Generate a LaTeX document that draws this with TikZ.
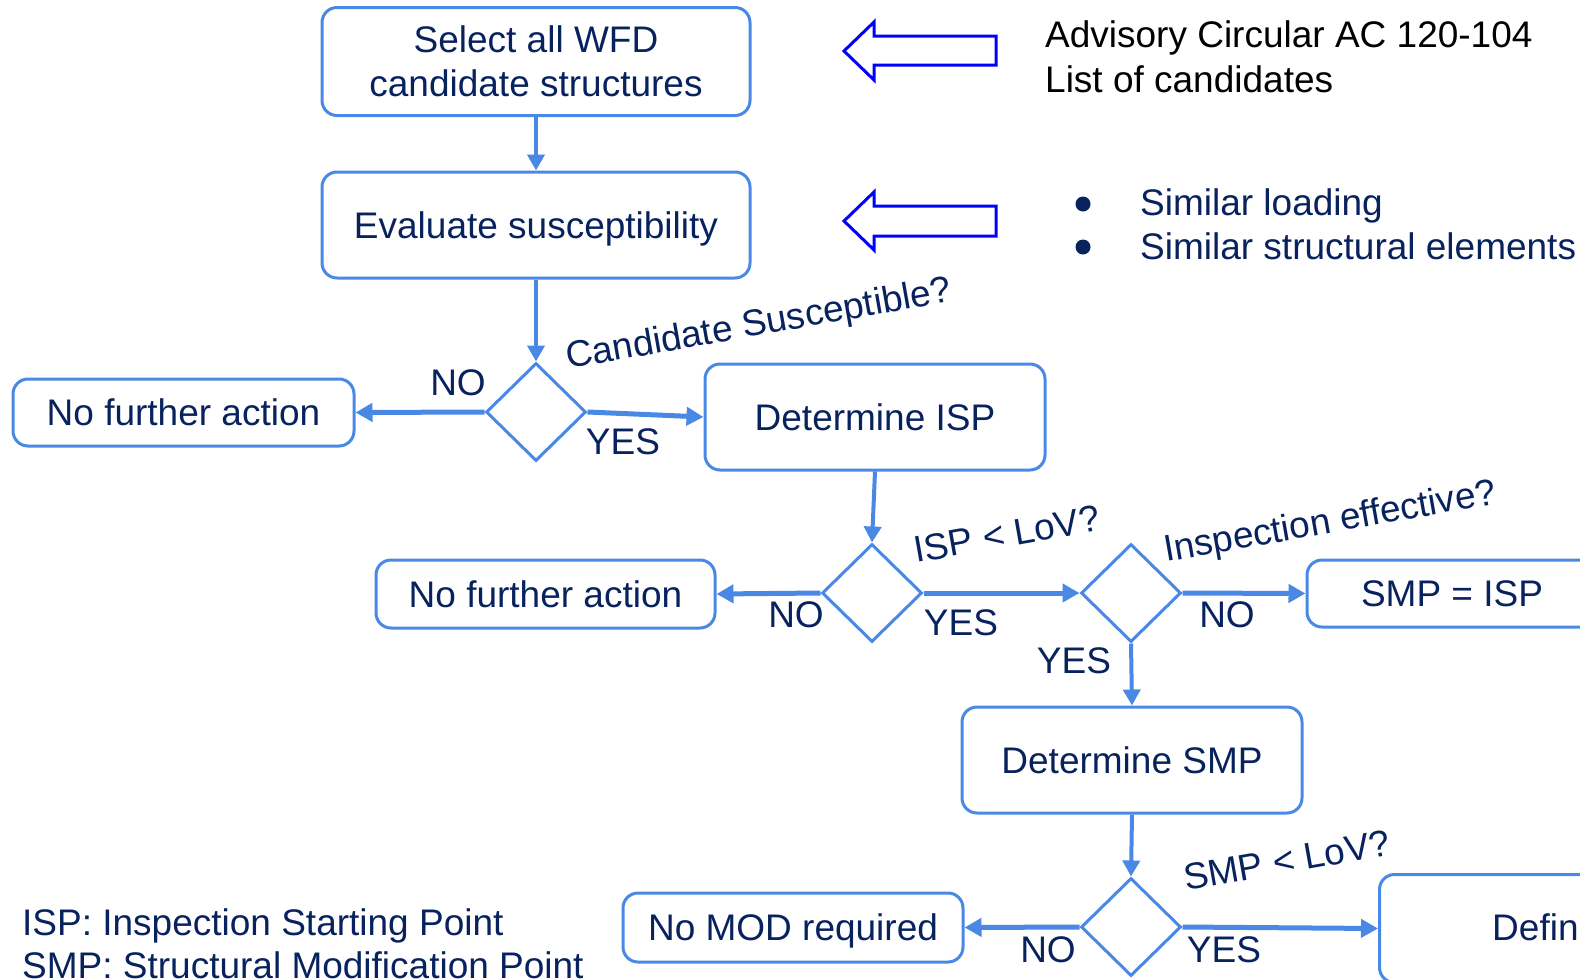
\documentclass[tikz,border=0pt]{standalone}
\usepackage{fontspec}
\setmainfont{Liberation Sans}
\usetikzlibrary{arrows.meta,shapes.geometric}
\definecolor{boxblue}{RGB}{74,136,230}
\definecolor{navy}{RGB}{8,34,94}
\definecolor{hollowblue}{RGB}{0,0,255}
\newcommand{\fsz}{\fontsize{37}{44}\selectfont}
\begin{document}
\begin{tikzpicture}[x=1pt,y=-1pt,
  box/.style={draw=boxblue, line width=3pt, rounded corners=15pt, text=navy,
    font=\fsz, align=center, inner sep=0pt},
  onebox/.style={box, text height=26.5pt, text depth=0pt},
  dia/.style={diamond, draw=boxblue, line width=3pt, minimum width=100pt,
    minimum height=98pt, inner sep=0pt},
  lbl/.style={text=navy, font=\fsz, inner sep=0pt},
  rlbl/.style={lbl, anchor=base west, rotate=10},
  vconn/.style={draw=boxblue, line width=4pt, -{Triangle[length=16pt,width=17pt]}},
  hconn/.style={draw=boxblue, line width=5pt, -{Triangle[length=17pt,width=18pt]}},
  hollow/.style={draw=hollowblue, line width=3pt, line join=miter}
]
\useasboundingbox (0,0) rectangle (1580,980);
\clip (0,0) rectangle (1580,980);

% boxes
\node[box, minimum width=428pt, minimum height=108pt] (sel) at (536,61.5) {Select all WFD\\candidate structures};
\node[onebox, minimum width=428pt, minimum height=106pt] (eval) at (536,225) {Evaluate susceptibility};
\node[onebox, minimum width=341pt, minimum height=67pt] (nfa1) at (183.5,412.5) {No further action};
\node[onebox, minimum width=340pt, minimum height=106pt] (isp) at (875,417) {Determine ISP};
\node[onebox, minimum width=339pt, minimum height=68pt] (nfa2) at (545.5,594) {No further action};
\node[onebox, minimum width=290pt, minimum height=67pt] (smpisp) at (1452,593.5) {SMP = ISP};
\node[onebox, minimum width=340pt, minimum height=106pt] (smp) at (1132,760) {Determine SMP};
\node[onebox, minimum width=340pt, minimum height=69pt] (nomod) at (793,927.5) {No MOD required};
\node[box, anchor=north west, minimum width=400pt, minimum height=108pt] (def) at (1378,873) {};
\node[lbl, anchor=west] (deft) at (1492,927) {Define};

% diamonds
\node[dia] (d1) at (536,412) {};
\node[dia] (d2) at (872,593) {};
\node[dia] (d3) at (1131,593) {};
\node[dia] (d4) at (1131,927) {};

% connectors
\draw[vconn] (sel.south) -- (eval.north);
\draw[vconn] (eval.south) -- (d1.north);
\draw[hconn] (d1.west) -- (nfa1.east);
\draw[hconn] (d1.east) -- (isp.west);
\draw[vconn] (isp.south) -- (d2.north);
\draw[hconn] (d2.west) -- (nfa2.east);
\draw[hconn] (d2.east) -- (d3.west);
\draw[hconn] (d3.east) -- (smpisp.west);
\draw[vconn] (d3.south) -- (smp.north);
\draw[vconn] (smp.south) -- (d4.north);
\draw[hconn] (d4.west) -- (nomod.east);
\draw[hconn] (d4.east) -- (def.west);

% branch labels
\node[lbl] (no1) at (458,383) {NO};
\node[lbl] (yes1) at (623,442) {YES};
\node[lbl] (no2) at (796,615) {NO};
\node[lbl] (yes2) at (961,623) {YES};
\node[lbl] (no3) at (1227,615) {NO};
\node[lbl] (yes3) at (1074,661) {YES};
\node[lbl] (no4) at (1048,950) {NO};
\node[lbl] (yes4) at (1224,950) {YES};

% rotated questions
\node[rlbl] (q1) at (568,369) {Candidate Susceptible?};
\node[rlbl] (q2) at (916,563) {ISP < LoV?};
\node[rlbl] (q3) at (1166,562) {Inspection effective?};
\node[rlbl] (q4) at (1186,891) {SMP < LoV?};

% hollow arrows
\draw[hollow] (996,36) -- (874,36) -- (874,22) -- (844,51) -- (874,80) -- (874,65) -- (996,65) -- cycle;
\draw[hollow] (996,206) -- (874,206) -- (874,192) -- (844,221) -- (874,250) -- (874,236) -- (996,236) -- cycle;

% side texts
\node[font=\fsz, anchor=base west, inner sep=0pt] (ac1) at (1045,47) {Advisory Circular AC 120-104};
\node[font=\fsz, anchor=base west, inner sep=0pt] (ac2) at (1045,92) {List of candidates};
\fill[navy] (1083,204) circle (7.5pt);
\fill[navy] (1083,247) circle (7.5pt);
\node[lbl, anchor=base west] (b1) at (1140,215) {Similar loading};
\node[lbl, anchor=base west] (b2) at (1140,259) {Similar structural elements};

% legend
\node[lbl, anchor=base west] (leg1) at (22,935) {ISP: Inspection Starting Point};
\node[lbl, anchor=base west] (leg2) at (22,978) {SMP: Structural Modification Point};
\end{tikzpicture}
\end{document}
